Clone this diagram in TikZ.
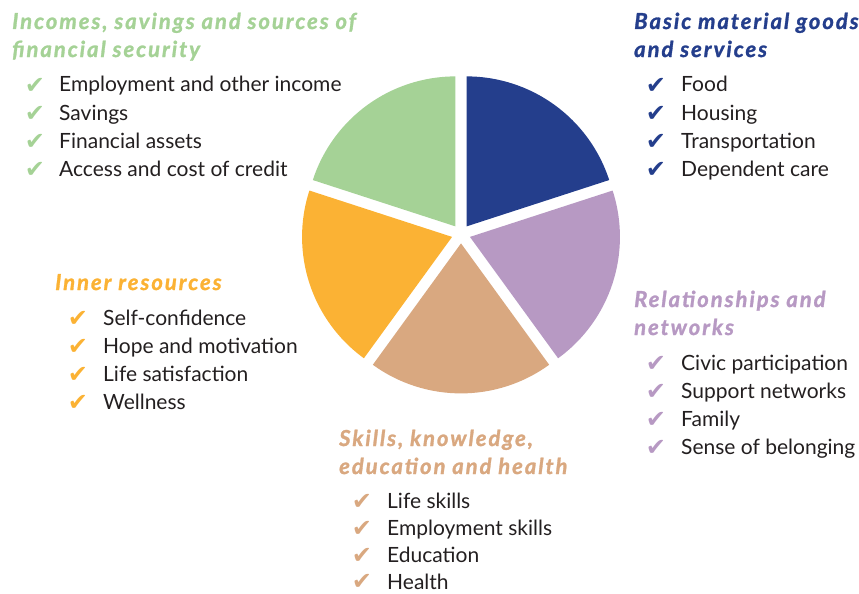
\documentclass[tikz,border=0pt]{standalone}
\usepackage{fontspec}
\setmainfont{Lato}
\newfontfamily\symfont{DejaVu Sans}
\newfontfamily\hdrfont{Lato}[FakeBold=1.3,LetterSpace=9]
\usetikzlibrary{calc}
\definecolor{cgreen}{HTML}{A5D296}
\definecolor{cblue}{HTML}{243E8C}
\definecolor{cpurple}{HTML}{B799C3}
\definecolor{ctan}{HTML}{D9A880}
\definecolor{corange}{HTML}{FBB234}
\definecolor{ctext}{HTML}{231F20}
\tikzset{
  hdr/.style={anchor=base west, inner sep=0pt, font=\hdrfont\fontsize{22}{24}\selectfont\bfseries\itshape},
  item/.style={anchor=base west, inner sep=0pt, text=ctext, font=\fontsize{21}{24}\selectfont},
  chk/.style={anchor=base, inner sep=0pt, text height=16pt, text depth=0pt, text=#1, font=\symfont\fontsize{24}{28}\selectfont},
}
\begin{document}
\begin{tikzpicture}[x=1pt,y=-1pt]
\useasboundingbox (0,0) rectangle (859,594);
\coordinate (c) at (461,234);
% pie slices (angles negated because y axis points down)
\fill[cblue]   ($(c)+(-54:9.4)$)  -- +(-18:150)  arc[start angle=-18,  end angle=-90,  radius=150] -- cycle;
\fill[cpurple] ($(c)+(18:9.4)$)   -- +(54:150)   arc[start angle=54,   end angle=-18,  radius=150] -- cycle;
\fill[ctan]    ($(c)+(90:9.4)$)   -- +(126:150)  arc[start angle=126,  end angle=54,   radius=150] -- cycle;
\fill[corange] ($(c)+(162:9.4)$)  -- +(-162:150) arc[start angle=-162, end angle=-234, radius=150] -- cycle;
\fill[cgreen]  ($(c)+(-126:9.4)$) -- +(-90:150)  arc[start angle=-90,  end angle=-162, radius=150] -- cycle;

% Green group
\node[hdr, text=cgreen] (gh1) at (12,29) {Incomes, savings and sources of};
\node[hdr, text=cgreen] (gh2) at (12,57) {financial security};
\node[chk=cgreen] (gc1) at (35,93) {✔};
\node[chk=cgreen] (gc2) at (35,121) {✔};
\node[chk=cgreen] (gc3) at (35,149) {✔};
\node[chk=cgreen] (gc4) at (35,177) {✔};
\node[item] (gi1) at (59,92) {Employment and other income};
\node[item] (gi2) at (59,120) {Savings};
\node[item] (gi3) at (59,148) {Financial assets};
\node[item] (gi4) at (59,176) {Access and cost of credit};

% Blue group
\node[hdr, text=cblue] (bh1) at (634,29) {Basic material goods};
\node[hdr, text=cblue] (bh2) at (634,57) {and services};
\node[chk=cblue] (bc1) at (656,93) {✔};
\node[chk=cblue] (bc2) at (656,121) {✔};
\node[chk=cblue] (bc3) at (656,149) {✔};
\node[chk=cblue] (bc4) at (656,177) {✔};
\node[item] (bi1) at (681,92) {Food};
\node[item] (bi2) at (681,120) {Housing};
\node[item] (bi3) at (681,148) {Transportation};
\node[item] (bi4) at (681,176) {Dependent care};

% Orange group
\node[hdr, text=corange] (oh1) at (55,290) {Inner resources};
\node[chk=corange] (oc1) at (78,326) {✔};
\node[chk=corange] (oc2) at (78,354) {✔};
\node[chk=corange] (oc3) at (78,382) {✔};
\node[chk=corange] (oc4) at (78,410) {✔};
\node[item] (oi1) at (103,325) {Self-confidence};
\node[item] (oi2) at (103,353) {Hope and motivation};
\node[item] (oi3) at (103,381) {Life satisfaction};
\node[item] (oi4) at (103,409) {Wellness};

% Purple group
\node[hdr, text=cpurple] (ph1) at (634,307) {Relationships and};
\node[hdr, text=cpurple] (ph2) at (634,335) {networks};
\node[chk=cpurple] (pc1) at (656,371) {✔};
\node[chk=cpurple] (pc2) at (656,399) {✔};
\node[chk=cpurple] (pc3) at (656,427) {✔};
\node[chk=cpurple] (pc4) at (656,455) {✔};
\node[item] (pi1) at (681,370) {Civic participation};
\node[item] (pi2) at (681,398) {Support networks};
\node[item] (pi3) at (681,426) {Family};
\node[item] (pi4) at (681,454) {Sense of belonging};

% Tan group
\node[hdr, text=ctan] (th1) at (339,446) {Skills, knowledge,};
\node[hdr, text=ctan] (th2) at (339,474) {education and health};
\node[chk=ctan] (tc1) at (362,509) {✔};
\node[chk=ctan] (tc2) at (362,536) {✔};
\node[chk=ctan] (tc3) at (362,563) {✔};
\node[chk=ctan] (tc4) at (362,589) {✔};
\node[item] (ti1) at (387,508) {Life skills};
\node[item] (ti2) at (387,535) {Employment skills};
\node[item] (ti3) at (387,562) {Education};
\node[item] (ti4) at (387,589) {Health};
\end{tikzpicture}
\end{document}
